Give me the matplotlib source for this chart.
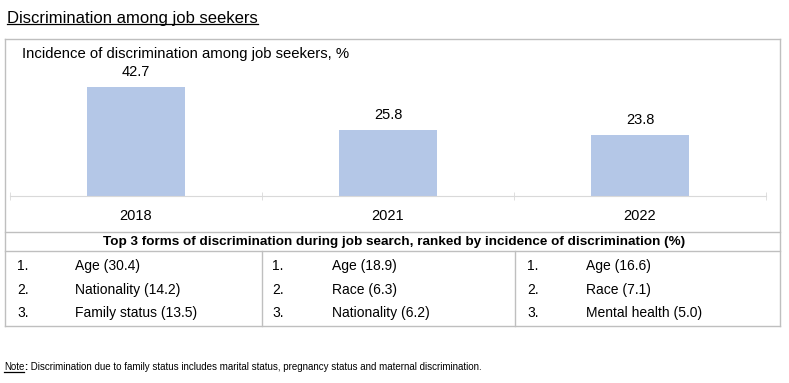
import matplotlib
matplotlib.use("Agg")
import matplotlib.pyplot as plt
from matplotlib.lines import Line2D
from matplotlib import font_manager

plt.rcParams['font.family'] = ['Liberation Sans', 'DejaVu Sans']

years = ['2018', '2021', '2022']
incidence = [42.7, 25.8, 23.8]

forms_2018 = ['Age (30.4)', 'Nationality (14.2)', 'Family status (13.5)']
forms_2021 = ['Age (18.9)', 'Race (6.3)', 'Nationality (6.2)']
forms_2022 = ['Age (16.6)', 'Race (7.1)', 'Mental health (5.0)']
ranks = ['1.', '2.', '3.']

title = 'Discrimination among job seekers'
chart_title = 'Incidence of discrimination among job seekers, %'
table_header = ('Top 3 forms of discrimination during job search, '
                'ranked by incidence of discrimination (%)')
note_text = ' Discrimination due to family status includes marital status, pregnancy status and maternal discrimination.'

W, H = 789, 383
BAR_COLOR = '#b4c7e7'
LINE_COLOR = '#bfbfbf'


def fx(x):
    return x / W


def fy(y):
    return 1 - y / H


def hline(fig, x0, x1, y, color=LINE_COLOR, lw=1.0):
    fig.add_artist(Line2D([fx(x0), fx(x1)], [fy(y), fy(y)], color=color, lw=lw))


def vline(fig, x, y0, y1, color=LINE_COLOR, lw=1.0):
    fig.add_artist(Line2D([fx(x), fx(x)], [fy(y0), fy(y1)], color=color, lw=lw))


def underline(fig, txt, dy=0.003):
    fig.canvas.draw()
    bb = txt.get_window_extent()
    inv = fig.transFigure.inverted()
    (a, b), (c, d) = inv.transform([(bb.x0, bb.y0), (bb.x1, bb.y1)])
    fig.add_artist(Line2D([a, c], [b + dy, b + dy], color='black', lw=0.9))


def main():
    fig = plt.figure(figsize=(W / 100, H / 100), dpi=100)

    # chart axes: baseline at y=196, x from 10 to 766
    ymax = 50
    top = 196 - ymax * (196 - 87) / 42.7
    ax = fig.add_axes([fx(10), fy(196), fx(766) - fx(10), fy(top) - fy(196)])
    x = range(len(years))
    bars = ax.bar(x, incidence, width=0.39, color=BAR_COLOR)
    for b, v in zip(bars, incidence):
        ax.annotate(f'{v}', (b.get_x() + b.get_width() / 2, v),
                    xytext=(0, 6), textcoords='offset points',
                    ha='center', va='bottom', fontsize=10.5)
    ax.set_xlim(-0.5, 2.5)
    ax.set_ylim(0, ymax)
    ax.set_xticks(list(x))
    ax.set_xticklabels(years, fontsize=10.5)
    ax.tick_params(axis='x', which='major', length=0, pad=9)
    ax.set_xticks([-0.5, 0.5, 1.5, 2.5], minor=True)
    ax.tick_params(axis='x', which='minor', direction='inout', length=6,
                   color='#d9d9d9')
    ax.set_yticks([])
    for s in ['top', 'left', 'right']:
        ax.spines[s].set_visible(False)
    ax.spines['bottom'].set_color('#d9d9d9')
    ax.patch.set_alpha(0)

    # outer box and table lines
    left, right, top_box, bottom_box = 5, 780, 39, 326
    hline(fig, left, right, top_box)
    hline(fig, left, right, bottom_box)
    vline(fig, left, top_box, bottom_box)
    vline(fig, right, top_box, bottom_box)
    hline(fig, left, right, 232)
    hline(fig, left, right, 251)
    vline(fig, 262, 251, bottom_box)
    vline(fig, 515, 251, bottom_box)

    # texts
    t = fig.text(fx(7), fy(18), title, fontsize=12.0, va='center', ha='left')
    fig.text(fx(22), fy(54), chart_title, fontsize=10.7, va='center', ha='left')
    fig.text(fx(394.5), fy(242), table_header, fontsize=9.7, fontweight='bold',
             va='center', ha='center')

    row_y = [266, 290, 313]
    cols = [(17, 75, forms_2018), (272, 332, forms_2021), (527, 586, forms_2022)]
    for rx, tx, forms in cols:
        for r, f, yy in zip(ranks, forms, row_y):
            fig.text(fx(rx), fy(yy), r, fontsize=10, va='center', ha='left')
            fig.text(fx(tx), fy(yy), f, fontsize=10, va='center', ha='left')

    # note in a condensed face if one is there
    names = {f.name for f in font_manager.fontManager.ttflist}
    if 'Liberation Sans Narrow' in names:
        note_family, note_size = ['Liberation Sans Narrow', 'DejaVu Sans'], 8.8
    else:
        note_family, note_size = ['Liberation Sans', 'DejaVu Sans'], 7.0
    n = fig.text(fx(4), fy(367), 'Note', fontsize=note_size, va='center',
                 ha='left', family=note_family)
    fig.canvas.draw()
    bb = n.get_window_extent()
    n2 = fig.text(bb.x1 / W, fy(367), ':', fontsize=note_size, va='center',
                  ha='left', family=note_family, fontweight='bold')
    fig.canvas.draw()
    bb2 = n2.get_window_extent()
    fig.text(bb2.x1 / W, fy(367), note_text, fontsize=note_size, va='center',
             ha='left', family=note_family)

    underline(fig, t)
    underline(fig, n, dy=0.0)

    fig.savefig('out.png', dpi=100)


if __name__ == "__main__":
    main()
